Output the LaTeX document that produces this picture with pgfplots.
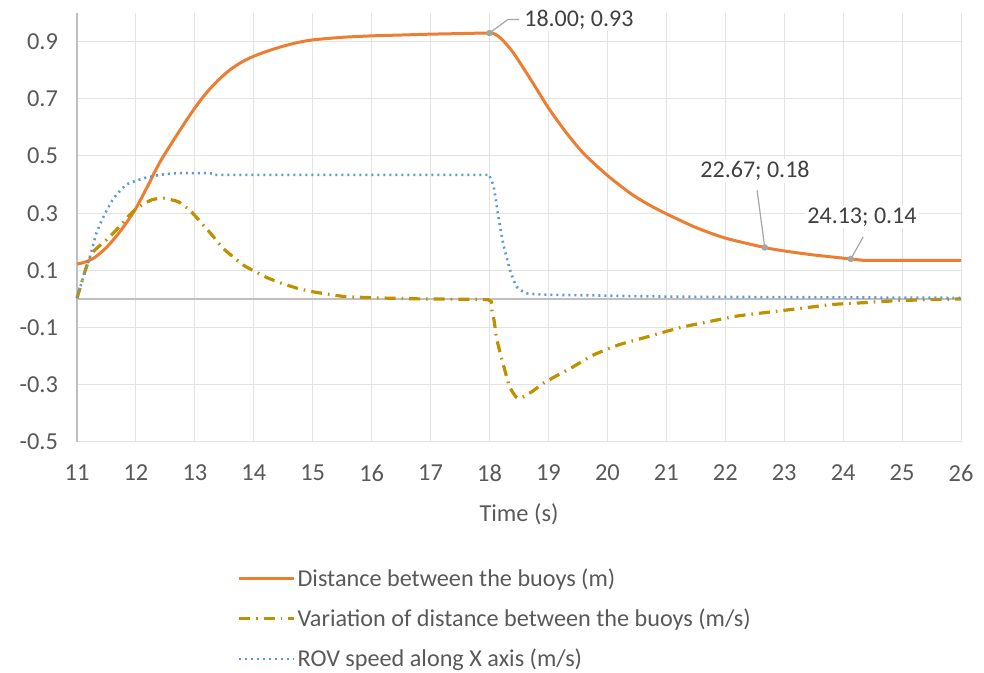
\documentclass[border=0pt]{standalone}
\usepackage{pgfplots}
\pgfplotsset{compat=1.18}
\usepackage{fontspec}
\setmainfont{Carlito}
\definecolor{orng}{HTML}{ED7D31}
\definecolor{gold}{HTML}{BF9000}
\definecolor{blu}{HTML}{5B9BD5}
\definecolor{txt}{HTML}{595959}
\definecolor{lbl}{HTML}{404040}
\definecolor{grd}{HTML}{E3E3E3}
\definecolor{axl}{HTML}{BFBFBF}
\definecolor{mrk}{HTML}{A5A5A5}
\begin{document}
\begin{tikzpicture}
\begin{axis}[
  scale only axis, width=442pt, height=214.5pt,
  xmin=11, xmax=26, ymin=-0.5, ymax=1.0,
  xtick={11,12,...,26},
  ytick={-0.5,-0.3,-0.1,0.1,0.3,0.5,0.7,0.9},
  yticklabels={-0.5,-0.3,-0.1,0.1,0.3,0.5,0.7,0.9},
  /pgf/number format/assume math mode=true,
  grid=major, grid style={grd, line width=0.5pt},
  axis line style={draw=none},
  major tick length=0pt,
  tick label style={font=\fontsize{12.2}{14}\selectfont, text=txt},
  yticklabel style={xshift=-6pt},
  xticklabel style={yshift=-8pt},
  xlabel={Time (s)},
  xlabel style={font=\fontsize{12.2}{14}\selectfont, text=txt, yshift=-4pt},
  clip=false,
  legend cell align=left,
  legend style={at={(0.181,-0.289)}, anchor=north west, draw=none, fill=none,
    inner sep=0pt, row sep=7.7pt, font=\fontsize{12.1}{14}\selectfont, text=txt,
    nodes={inner sep=1pt}},
  legend image code/.code={\draw[#1] (0pt,0pt) -- (27.5pt,0pt);},
]
\draw[axl, line width=1pt] (axis cs:11,0) -- (axis cs:26,0);
\draw[axl, line width=1pt] (axis cs:11,-0.5) -- (axis cs:11,1.0);

\addplot[orng, line width=1.5pt, smooth, tension=0.4] coordinates {
(11.0,0.122) (11.15,0.130) (11.3,0.145) (11.5,0.180) (11.7,0.228) (11.85,0.270)
(12.0,0.317) (12.2,0.395) (12.4,0.476) (12.6,0.543) (12.8,0.607) (13.0,0.668)
(13.2,0.722) (13.4,0.766) (13.6,0.802) (13.8,0.829) (14.0,0.849) (14.25,0.868)
(14.5,0.884) (14.75,0.897) (15.0,0.906) (15.5,0.915) (16.0,0.920) (16.5,0.923)
(17.0,0.926) (17.5,0.928) (18.0,0.930) (18.1,0.925) (18.2,0.910) (18.4,0.862)
(18.7,0.767) (19.0,0.668) (19.3,0.582) (19.6,0.508) (20.0,0.432) (20.4,0.368)
(20.7,0.330) (21.0,0.298) (21.5,0.250) (22.0,0.213) (22.67,0.180) (23.0,0.168)
(23.5,0.154) (24.13,0.140) (24.35,0.135) (25.0,0.135) (26.0,0.135)};
\addlegendentry{Distance between the buoys (m)}

\addplot[gold, line width=1.6pt, smooth, tension=0.3, dash pattern=on 5.5pt off 3pt on 0.8pt off 3pt] coordinates {
(11.0,0.002) (11.16,0.113) (11.28,0.166) (11.5,0.207) (11.67,0.242) (11.84,0.282)
(12.01,0.317) (12.27,0.347) (12.47,0.352) (12.72,0.340) (12.92,0.309) (13.09,0.271)
(13.29,0.224) (13.48,0.177) (13.82,0.119) (14.05,0.093) (14.22,0.075) (14.47,0.055)
(14.73,0.038) (14.98,0.026) (15.52,0.009) (16.08,0.004) (16.9,0.0) (17.98,-0.003)
(18.04,-0.038) (18.08,-0.079) (18.12,-0.138) (18.19,-0.196) (18.26,-0.249) (18.34,-0.307)
(18.46,-0.345) (18.57,-0.342) (18.72,-0.324) (18.91,-0.295) (19.14,-0.268) (19.37,-0.243)
(19.76,-0.196) (20.21,-0.159) (20.72,-0.130) (21.23,-0.100) (21.63,-0.083) (22.19,-0.060)
(22.70,-0.047) (23.27,-0.033) (23.83,-0.019) (24.34,-0.013) (24.91,-0.006) (25.5,-0.002)
(26.0,0.0)};
\addlegendentry{Variation of distance between the buoys (m/s)}

\addplot[blu, line width=1.3pt, smooth, tension=0.3, dash pattern=on 1pt off 2pt] coordinates {
(11.0,0.005) (11.11,0.078) (11.22,0.148) (11.33,0.230) (11.45,0.288) (11.62,0.352)
(11.84,0.400) (12.13,0.422) (12.41,0.434) (12.7,0.440) (13.2,0.440) (13.3,0.438) (13.4,0.434)
(15.0,0.434) (17.0,0.434) (17.96,0.434) (18.0,0.430) (18.07,0.393) (18.15,0.288) (18.23,0.195) (18.35,0.100) (18.46,0.043)
(18.63,0.020) (18.97,0.015) (19.65,0.013) (21.2,0.008) (26.0,0.004)};
\addlegendentry{ROV speed along X axis (m/s)}

\addplot[only marks, mark=*, mark size=1.4pt, mrk, forget plot] coordinates {
(18.0,0.93) (22.67,0.18) (24.13,0.14)};

\draw[mrk, line width=0.6pt] (axis cs:18.0,0.93) -- (axis cs:18.31,0.977) -- (axis cs:18.5,0.977);
\draw[mrk, line width=0.6pt] (axis cs:22.67,0.18) -- (axis cs:22.54,0.38);
\draw[mrk, line width=0.6pt] (axis cs:24.13,0.14) -- (axis cs:24.34,0.217);

\node[fill=white, inner sep=1pt, anchor=west, text=lbl, font=\fontsize{12}{14}\selectfont] at (axis cs:18.55,0.977) {18.00; 0.93};
\node[fill=white, inner sep=1pt, text=lbl, font=\fontsize{12}{14}\selectfont] at (axis cs:22.505,0.448) {22.67; 0.18};
\node[fill=white, inner sep=1pt, text=lbl, font=\fontsize{12}{14}\selectfont] at (axis cs:24.32,0.287) {24.13; 0.14};
\end{axis}
\path (-38.5pt,-115.5pt) rectangle (453.5pt,221pt);
\end{tikzpicture}
\end{document}
